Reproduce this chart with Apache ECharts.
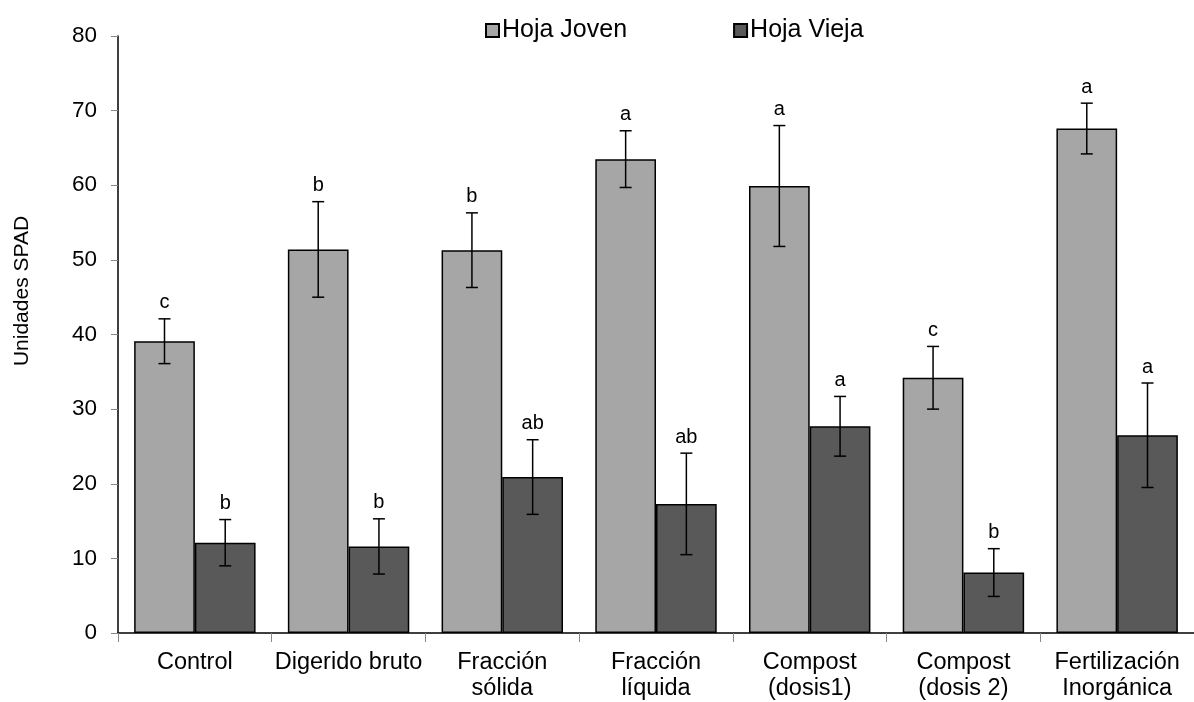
<!DOCTYPE html>
<html>
<head>
<meta charset="utf-8">
<script src="https://cdn.jsdelivr.net/npm/echarts@6/dist/echarts.min.js"></script>
<style>
  html, body { margin: 0; padding: 0; background: #fff; }
  #chart { width: 1194px; height: 702px; }
</style>
</head>
<body>
<div id="chart"></div>
<script>
// Tratamientos
const categories = [
  'Control', 'Digerido bruto', 'Fracción\nsólida', 'Fracción\nlíquida',
  'Compost\n(dosis1)', 'Compost\n(dosis 2)', 'Fertilización\nInorgánica'
];
// Unidades SPAD medias
const hojaJoven = [39.1, 51.4, 51.3, 63.5, 59.9, 34.2, 67.6];
const hojaVieja = [12.1, 11.6, 20.9, 17.3, 27.7, 8.1, 26.5];
// Desviación estándar
const errJoven = [3.0, 6.4, 5.0, 3.8, 8.1, 4.2, 3.4];
const errVieja = [3.1, 3.7, 5.0, 6.8, 4.0, 3.2, 7.0];
// Letras de significancia
const letrasJoven = ['c', 'b', 'b', 'a', 'a', 'c', 'a'];
const letrasVieja = ['b', 'b', 'ab', 'ab', 'a', 'b', 'a'];

const FONT = '"Liberation Sans", Arial, sans-serif';
const CAT_GAP = 0.21;

// Error bars + letters, positioned over the two bars in each group
function errorSeries(values, errs, letters, side) {
  return {
    type: 'custom',
    silent: true,
    z: 5,
    data: values.map((v, i) => [i, v, errs[i], letters[i]]),
    renderItem(params, api) {
      const i = api.value(0);
      const v = api.value(1);
      const e = api.value(2);
      const bw = api.size([1, 0])[0];
      const offset = side * bw * (1 - CAT_GAP) / 4;
      const top = api.coord([i, v + e]);
      const bot = api.coord([i, v - e]);
      const x = top[0] + offset;
      const cap = 6;
      const style = { stroke: '#000', lineWidth: 1.5 };
      return {
        type: 'group',
        children: [
          { type: 'line', shape: { x1: x, y1: top[1], x2: x, y2: bot[1] }, style },
          { type: 'line', shape: { x1: x - cap, y1: top[1], x2: x + cap, y2: top[1] }, style },
          { type: 'line', shape: { x1: x - cap, y1: bot[1], x2: x + cap, y2: bot[1] }, style },
          {
            type: 'text',
            style: {
              x: x, y: top[1] - 6,
              text: letters[i],
              fill: '#000',
              font: '20px ' + FONT,
              align: 'center',
              verticalAlign: 'bottom'
            }
          }
        ]
      };
    }
  };
}

const chart = echarts.init(document.getElementById('chart'), null, { renderer: 'canvas' });
chart.setOption({
  backgroundColor: '#fff',
  animation: false,
  textStyle: { fontFamily: FONT, color: '#000' },
  grid: { left: 118, right: -7, top: 36, bottom: 65 },
  legend: {
    data: ['Hoja Joven', 'Hoja Vieja'],
    left: 480,
    top: 13,
    itemWidth: 13,
    itemHeight: 13,
    itemGap: 106,
    icon: 'rect',
    textStyle: { fontSize: 25, color: '#000', fontFamily: FONT, padding: [0, 0, 0, -2] }
  },
  graphic: [{
    type: 'text',
    x: 22, y: 291,
    rotation: Math.PI / 2,
    style: {
      text: 'Unidades SPAD',
      font: '21px ' + FONT,
      fill: '#000',
      align: 'center',
      verticalAlign: 'middle'
    }
  }],
  xAxis: {
    type: 'category',
    data: categories,
    axisLine: { lineStyle: { color: '#000', width: 1.5 } },
    axisTick: { show: true, length: 9, lineStyle: { color: '#888' } },
    axisLabel: { fontSize: 23.5, lineHeight: 26, margin: 17, color: '#000', fontFamily: FONT, interval: 0 }
  },
  yAxis: {
    type: 'value',
    min: 0, max: 80, interval: 10,
    splitLine: { show: false },
    axisLine: { show: true, lineStyle: { color: '#000', width: 1.5 } },
    axisTick: { show: true, length: 7, lineStyle: { color: '#888' } },
    axisLabel: { fontSize: 22.5, margin: 21, color: '#000', fontFamily: FONT }
  },
  series: [
    {
      name: 'Hoja Joven',
      type: 'bar',
      data: hojaJoven,
      barGap: '0%',
      barCategoryGap: (CAT_GAP * 100) + '%',
      itemStyle: { color: '#a6a6a6', borderColor: '#000', borderWidth: 1.5 }
    },
    {
      name: 'Hoja Vieja',
      type: 'bar',
      data: hojaVieja,
      itemStyle: { color: '#595959', borderColor: '#000', borderWidth: 1.5 }
    },
    errorSeries(hojaJoven, errJoven, letrasJoven, -1),
    errorSeries(hojaVieja, errVieja, letrasVieja, 1)
  ]
});
</script>
</body>
</html>
